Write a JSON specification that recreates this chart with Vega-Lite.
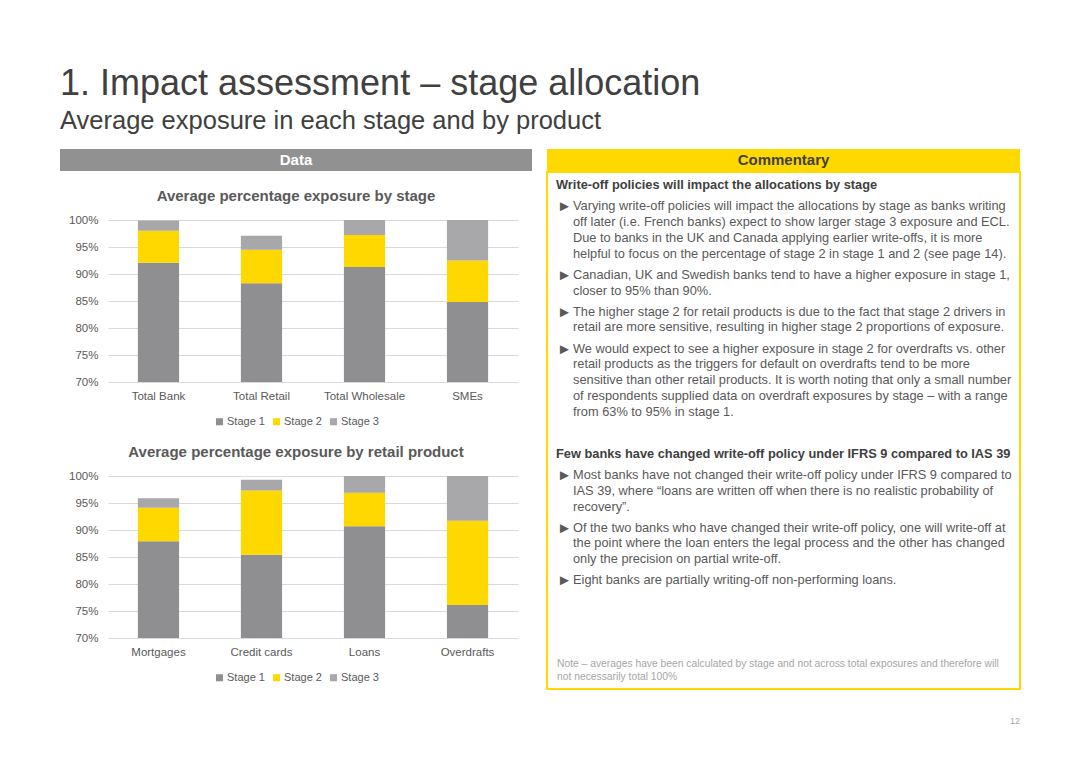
{
  "$schema": "https://vega.github.io/schema/vega-lite/v6.json",
  "background": "white",
  "padding": {"left": 60, "top": 65, "right": 0, "bottom": 0},
  "title": {
    "text": "1. Impact assessment – stage allocation",
    "subtitle": "Average exposure in each stage and by product",
    "anchor": "start",
    "frame": "bounds",
    "font": "Liberation Sans",
    "fontSize": 36,
    "fontWeight": "normal",
    "color": "#404040",
    "subtitleFont": "Liberation Sans",
    "subtitleFontSize": 25.5,
    "subtitleColor": "#404040",
    "subtitlePadding": 6,
    "offset": 14
  },
  "datasets": {
    "byStage": [
      {"category": "Total Bank", "stage": "Stage 1", "share": 92.1},
      {"category": "Total Bank", "stage": "Stage 2", "share": 5.9},
      {"category": "Total Bank", "stage": "Stage 3", "share": 1.9},
      {"category": "Total Retail", "stage": "Stage 1", "share": 88.3},
      {"category": "Total Retail", "stage": "Stage 2", "share": 6.2},
      {"category": "Total Retail", "stage": "Stage 3", "share": 2.6},
      {"category": "Total Wholesale", "stage": "Stage 1", "share": 91.3},
      {"category": "Total Wholesale", "stage": "Stage 2", "share": 5.9},
      {"category": "Total Wholesale", "stage": "Stage 3", "share": 2.8},
      {"category": "SMEs", "stage": "Stage 1", "share": 84.8},
      {"category": "SMEs", "stage": "Stage 2", "share": 7.7},
      {"category": "SMEs", "stage": "Stage 3", "share": 7.5}
    ],
    "byProduct": [
      {"product": "Mortgages", "stage": "Stage 1", "share": 87.9},
      {"product": "Mortgages", "stage": "Stage 2", "share": 6.2},
      {"product": "Mortgages", "stage": "Stage 3", "share": 1.8},
      {"product": "Credit cards", "stage": "Stage 1", "share": 85.4},
      {"product": "Credit cards", "stage": "Stage 2", "share": 11.9},
      {"product": "Credit cards", "stage": "Stage 3", "share": 2.0},
      {"product": "Loans", "stage": "Stage 1", "share": 90.7},
      {"product": "Loans", "stage": "Stage 2", "share": 6.2},
      {"product": "Loans", "stage": "Stage 3", "share": 3.1},
      {"product": "Overdrafts", "stage": "Stage 1", "share": 76.1},
      {"product": "Overdrafts", "stage": "Stage 2", "share": 15.6},
      {"product": "Overdrafts", "stage": "Stage 3", "share": 8.3}
    ],
    "commentary": [
      {"slot": 0, "kind": "head", "text": "Write-off policies will impact the allocations by stage"},
      {"slot": 4, "kind": "bullet", "text": ["Varying write-off policies will impact the allocations by stage as banks writing", "off later (i.e. French banks) expect to show larger stage 3 exposure and ECL.", "Due to banks in the UK and Canada applying earlier write-offs, it is more", "helpful to focus on the percentage of stage 2 in stage 1 and 2 (see page 14)."]},
      {"slot": 17, "kind": "bullet", "text": ["Canadian, UK and Swedish banks tend to have a higher exposure in stage 1,", "closer to 95% than 90%."]},
      {"slot": 24, "kind": "bullet", "text": ["The higher stage 2 for retail products is due to the fact that stage 2 drivers in", "retail are more sensitive, resulting in higher stage 2 proportions of exposure."]},
      {"slot": 31, "kind": "bullet", "text": ["We would expect to see a higher exposure in stage 2 for overdrafts vs. other", "retail products as the triggers for default on overdrafts tend to be more", "sensitive than other retail products. It is worth noting that only a small number", "of respondents supplied data on overdraft exposures by stage – with a range", "from 63% to 95% in stage 1."]},
      {"slot": 51, "kind": "head", "text": "Few banks have changed write-off policy under IFRS 9 compared to IAS 39"},
      {"slot": 55, "kind": "bullet", "text": ["Most banks have not changed their write-off policy under IFRS 9 compared to", "IAS 39, where “loans are written off when there is no realistic probability of", "recovery”."]},
      {"slot": 65, "kind": "bullet", "text": ["Of the two banks who have changed their write-off policy, one will write-off at", "the point where the loan enters the legal process and the other has changed", "only the precision on partial write-off."]},
      {"slot": 75, "kind": "bullet", "text": ["Eight banks are partially writing-off non-performing loans."]},
      {"slot": 91, "kind": "note", "text": ["Note – averages have been calculated by stage and not across total exposures and therefore will", "not necessarily total 100%"]}
    ]
  },
  "spacing": 14,
  "hconcat": [
    {
      "spacing": 18,
      "resolve": {"scale": {"color": "independent"}, "legend": {"color": "independent"}},
      "vconcat": [
        {
          "width": 472,
          "height": 22,
          "view": {"fill": "#919191", "stroke": null},
          "data": {"values": [{"label": "Data"}]},
          "mark": {"type": "text", "font": "Liberation Sans", "fontSize": 15, "fontWeight": "bold", "color": "#ffffff"},
          "encoding": {"text": {"field": "label"}}
        },
        {
          "width": 472,
          "height": 162,
          "title": {"text": "Average percentage exposure by stage"},
          "data": {"name": "byStage"},
          "mark": {"type": "bar", "clip": true},
          "encoding": {
            "x": {
              "field": "category", "type": "nominal", "sort": null,
              "scale": {"range": [48, 458], "paddingInner": 0.6, "paddingOuter": 0.29},
              "axis": {"title": null, "labelAngle": 0}
            },
            "y": {
              "field": "share", "type": "quantitative", "stack": "zero",
              "scale": {"domain": [70, 100], "nice": false, "zero": false},
              "axis": {"title": null, "values": [70, 75, 80, 85, 90, 95, 100], "labelExpr": "datum.value + '%'"}
            },
            "color": {
              "field": "stage", "type": "nominal",
              "scale": {"domain": ["Stage 1", "Stage 2", "Stage 3"], "range": ["#8f8e90", "#ffd800", "#a8a7a9"]},
              "legend": {"title": null, "orient": "bottom", "direction": "horizontal"}
            },
            "order": {"field": "stage", "sort": "ascending"}
          }
        },
        {
          "width": 472,
          "height": 162,
          "title": {"text": "Average percentage exposure by retail product"},
          "data": {"name": "byProduct"},
          "mark": {"type": "bar", "clip": true},
          "encoding": {
            "x": {
              "field": "product", "type": "nominal", "sort": null,
              "scale": {"range": [48, 458], "paddingInner": 0.6, "paddingOuter": 0.29},
              "axis": {"title": null, "labelAngle": 0}
            },
            "y": {
              "field": "share", "type": "quantitative", "stack": "zero",
              "scale": {"domain": [70, 100], "nice": false, "zero": false},
              "axis": {"title": null, "values": [70, 75, 80, 85, 90, 95, 100], "labelExpr": "datum.value + '%'"}
            },
            "color": {
              "field": "stage", "type": "nominal",
              "scale": {"domain": ["Stage 1", "Stage 2", "Stage 3"], "range": ["#8f8e90", "#ffd800", "#a8a7a9"]},
              "legend": {"title": null, "orient": "bottom", "direction": "horizontal"}
            },
            "order": {"field": "stage", "sort": "ascending"}
          }
        }
      ]
    },
    {
      "spacing": 0,
      "vconcat": [
        {
          "width": 473,
          "height": 22,
          "view": {"fill": "#ffd800", "stroke": null},
          "data": {"values": [{"label": "Commentary"}]},
          "mark": {"type": "text", "font": "Liberation Sans", "fontSize": 15, "fontWeight": "bold", "color": "#404040"},
          "encoding": {"text": {"field": "label"}}
        },
        {
          "width": 473,
          "height": 517,
          "view": {"stroke": "#ffd800", "strokeWidth": 2, "fill": null},
          "data": {"name": "commentary"},
          "encoding": {
            "y": {"field": "slot", "type": "quantitative", "scale": {"domain": [-1.37, 96.74], "reverse": true, "nice": false, "zero": false}, "axis": null}
          },
          "layer": [
            {
              "transform": [{"filter": "datum.kind === 'head'"}],
              "mark": {"type": "text", "align": "left", "baseline": "top", "font": "Liberation Sans", "fontSize": 12.8, "fontWeight": "bold", "color": "#404040"},
              "encoding": {
                "x": {"field": "kind", "type": "nominal", "scale": {"type": "point", "domain": ["head", "bullet"], "range": [9, 26], "padding": 0}, "axis": null},
                "text": {"field": "text"}
              }
            },
            {
              "transform": [{"filter": "datum.kind === 'bullet'"}],
              "mark": {"type": "text", "align": "left", "baseline": "top", "font": "Liberation Sans", "fontSize": 12.8, "lineHeight": 15.75, "color": "#595959"},
              "encoding": {
                "x": {"field": "kind", "type": "nominal", "axis": null},
                "text": {"field": "text"}
              }
            },
            {
              "transform": [{"filter": "datum.kind === 'bullet'"}],
              "mark": {"type": "text", "align": "left", "baseline": "top", "font": "Liberation Sans", "fontSize": 15, "color": "#595959", "text": "►", "dx": -16, "dy": -1},
              "encoding": {
                "x": {"field": "kind", "type": "nominal", "axis": null}
              }
            },
            {
              "transform": [{"filter": "datum.kind === 'note'"}],
              "mark": {"type": "text", "align": "left", "baseline": "top", "font": "Liberation Sans", "fontSize": 10.3, "lineHeight": 12.8, "color": "#a6a6a6", "dx": 1},
              "encoding": {
                "x": {"datum": "head", "type": "nominal", "axis": null},
                "text": {"field": "text"}
              }
            }
          ]
        },
        {
          "width": 473,
          "height": 62,
          "view": {"stroke": null},
          "data": {"values": [{"page": "12"}]},
          "mark": {"type": "text", "align": "right", "baseline": "middle", "font": "Liberation Sans", "fontSize": 9, "color": "#a6a6a6", "dx": 0},
          "encoding": {"text": {"field": "page"}, "x": {"value": "width"}}
        }
      ]
    }
  ],
  "config": {
    "font": "Liberation Sans",
    "view": {"stroke": null},
    "title": {"font": "Liberation Sans", "fontSize": 15, "fontWeight": "bold", "color": "#595959", "anchor": "middle", "offset": 10},
    "axis": {"labelFont": "Liberation Sans", "labelFontSize": 11.5, "labelColor": "#595959", "domain": false, "ticks": false, "gridColor": "#d9d9d9", "gridWidth": 1},
    "axisX": {"grid": false, "labelPadding": 8},
    "axisY": {"grid": true, "labelPadding": -38, "minExtent": 0},
    "legend": {"labelFont": "Liberation Sans", "labelFontSize": 11, "labelColor": "#595959", "symbolType": "square", "symbolSize": 50, "symbolStrokeWidth": 0, "columnPadding": 6, "labelOffset": 2, "offset": 14, "layout": {"bottom": {"anchor": "middle"}}},
    "bar": {"stroke": null}
  }
}
